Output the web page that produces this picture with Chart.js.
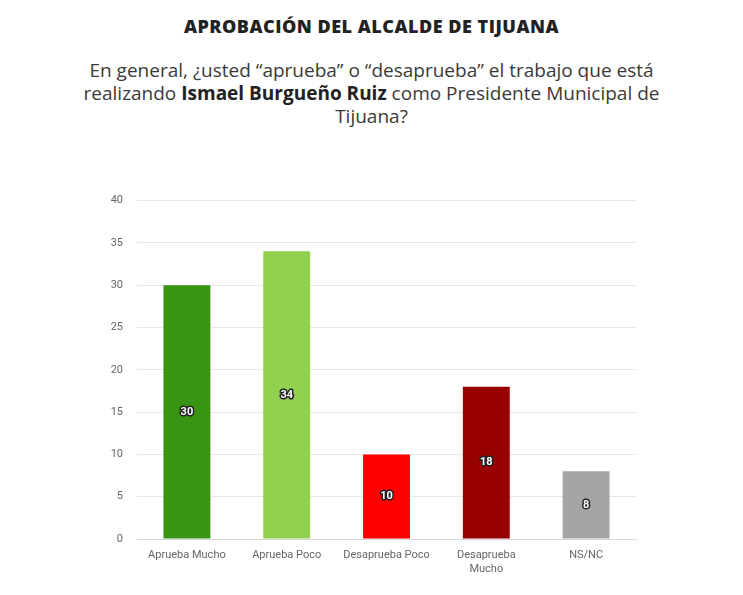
<!DOCTYPE html>
<html>
<head>
<meta charset="utf-8">
<script src="https://cdn.jsdelivr.net/npm/chart.js@4"></script>
<style>
  body { margin: 0; background: #fff; width: 743px; height: 595px; overflow: hidden; font-family: "Open Sans", sans-serif; }
  #title { position: absolute; top: 14px; left: 0; width: 743px; text-align: center; font-size: 18px; letter-spacing: 0.5px; font-weight: 800; color: #222; }
  #sub { position: absolute; top: 59px; left: 0; width: 743px; text-align: center; font-size: 19px; line-height: 23px; color: #3a3a3a; }
  #sub b { font-weight: 700; color: #222; }
  #wrap { position: absolute; left: 0; top: 180px; width: 743px; height: 410px; }
</style>
</head>
<body>
<div id="title">APROBACIÓN DEL ALCALDE DE TIJUANA</div>
<div id="sub">En general, ¿usted “aprueba” o “desaprueba” el trabajo que está<br>realizando <b>Ismael Burgueño Ruiz</b> como Presidente Municipal de<br>Tijuana?</div>
<div id="wrap"><canvas id="chart"></canvas></div>
<script>
  const categories = [['Aprueba Mucho'], ['Aprueba Poco'], ['Desaprueba Poco'], ['Desaprueba', 'Mucho'], ['NS/NC']];
  const values = [30, 34, 10, 18, 8];
  const barColors = ['#3a9413', '#92d050', '#ff0000', '#990000', '#a5a5a5'];
  const yTicks = [0, 5, 10, 15, 20, 25, 30, 35, 40];

  // white numbers with a dark outline, centred in each bar
  const barLabels = {
    id: 'barLabels',
    afterDatasetsDraw(chart) {
      const ctx = chart.ctx;
      const meta = chart.getDatasetMeta(0);
      ctx.save();
      ctx.font = 'bold 11px Roboto, sans-serif';
      ctx.textAlign = 'center';
      ctx.textBaseline = 'middle';
      ctx.lineWidth = 3;
      ctx.lineJoin = 'round';
      ctx.strokeStyle = '#222';
      ctx.fillStyle = '#fff';
      meta.data.forEach((bar, i) => {
        const y = (bar.y + bar.base) / 2;
        ctx.strokeText(String(values[i]), bar.x, y);
        ctx.fillText(String(values[i]), bar.x, y);
      });
      ctx.restore();
    }
  };

  const ctx = document.getElementById('chart').getContext('2d');
  const chart = new Chart(ctx, {
    type: 'bar',
    data: {
      labels: categories,
      datasets: [{
        data: values,
        backgroundColor: barColors,
        barPercentage: 0.47,
        categoryPercentage: 1
      }]
    },
    options: {
      responsive: true,
      maintainAspectRatio: false,
      animation: false,
      layout: { padding: { left: 97, right: 107, top: 17, bottom: 0 } },
      plugins: { legend: { display: false }, tooltip: { enabled: false } },
      scales: {
        x: {
          grid: { display: false },
          border: { color: '#d8d8d8' },
          ticks: { color: '#666', font: { family: 'Roboto', size: 11 }, padding: 2, maxRotation: 0, autoSkip: false },
          afterFit: (s) => { s.height = 51; }
        },
        y: {
          min: 0,
          max: 40,
          afterBuildTicks: (s) => { s.ticks = yTicks.map(v => ({ value: v })); },
          grid: { color: '#e8e8e8', drawTicks: false },
          border: { display: false },
          ticks: { color: '#666', font: { family: 'Roboto', size: 11 }, padding: 14 },
          afterFit: (s) => { s.width = 40; }
        }
      }
    },
    plugins: [barLabels]
  });
</script>
</body>
</html>
